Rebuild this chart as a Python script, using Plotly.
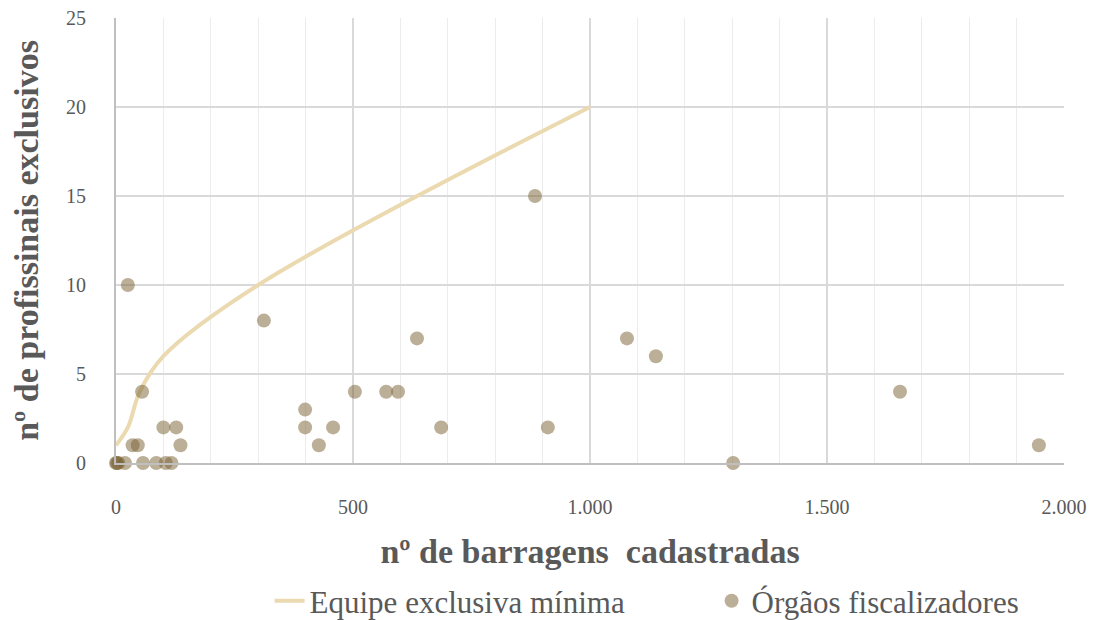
import plotly.graph_objects as go

# Data
line_x = [0, 25, 50, 100, 300, 1000]
line_y = [1, 2, 4, 6, 10, 20]

org_x = [0, 2, 5, 19, 25, 35, 46, 55, 57, 85, 100, 105, 117, 127, 136,
         312, 399, 399, 428, 458, 504, 570, 595, 635, 686, 884, 911,
         1078, 1139, 1302, 1654, 1947]
org_y = [0, 0, 0, 0, 10, 1, 1, 4, 0, 0, 2, 0, 0, 2, 1,
         8, 3, 2, 1, 2, 4, 4, 4, 7, 2, 15, 2,
         7, 6, 0, 4, 1]

x_tickvals = [0, 500, 1000, 1500, 2000]
x_ticktext = ["0", "500", "1.000", "1.500", "2.000"]
y_tickvals = [0, 5, 10, 15, 20, 25]

FONT = "Liberation Serif"
GRAY = "#595959"

fig = go.Figure()
fig.add_trace(go.Scatter(
    x=line_x, y=line_y, mode="lines", name="Equipe exclusiva mínima",
    line=dict(color="#EBD9B0", width=4, shape="spline", smoothing=1.0),
))
fig.add_trace(go.Scatter(
    x=org_x, y=org_y, mode="markers", name="Órgãos fiscalizadores",
    marker=dict(color="rgba(120,95,50,0.5)", size=14, line=dict(width=0)),
    cliponaxis=False,
))

fig.update_layout(
    width=1099, height=612,
    margin=dict(l=108, r=43, t=10, b=157, autoexpand=False),
    paper_bgcolor="white", plot_bgcolor="white",
    font=dict(family=FONT, color=GRAY, size=18),
    showlegend=True,
    legend=dict(orientation="h", x=0.162, xanchor="left",
                yref="container", y=0.031, yanchor="middle",
                font=dict(family=FONT, size=31, color=GRAY), entrywidth=397),
    xaxis=dict(
        range=[0, 2000], tickvals=x_tickvals, ticktext=x_ticktext,
        showgrid=True, gridcolor="#d9d9d9", gridwidth=2,
        minor=dict(dtick=100, showgrid=True, gridcolor="#ececec", gridwidth=1),
        showline=True, linecolor="#bfbfbf", linewidth=2, zeroline=False,
        ticks="outside", ticklen=25, tickcolor="rgba(0,0,0,0)",
        tickfont=dict(family=FONT, size=20, color=GRAY),
        ticklabeloverflow="allow",
        title=dict(text="<b>nº de barragens  cadastradas</b>",
                   font=dict(family=FONT, size=34, color=GRAY), standoff=22),
    ),
    yaxis=dict(
        range=[0, 25], tickvals=y_tickvals,
        showgrid=True, gridcolor="#d9d9d9", gridwidth=2,
        showline=True, linecolor="#bfbfbf", linewidth=2, zeroline=False,
        ticks="outside", ticklen=24, tickcolor="rgba(0,0,0,0)",
        tickfont=dict(family=FONT, size=20, color=GRAY),
        ticklabeloverflow="allow",
        title=dict(text="<b>nº de profissinais exclusivos</b>",
                   font=dict(family=FONT, size=34, color=GRAY), standoff=22),
    ),
)

fig.write_html("out.html")
